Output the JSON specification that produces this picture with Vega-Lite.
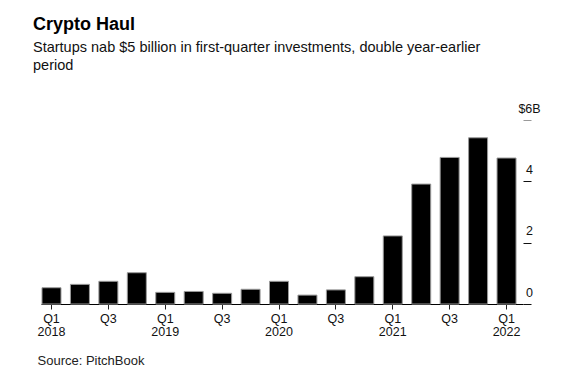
{
  "$schema": "https://vega.github.io/schema/vega-lite/v6.json",
  "autosize": "none",
  "width": 482,
  "height": 184,
  "padding": {"left": 41, "top": 120, "right": 53, "bottom": 77},
  "background": "white",
  "config": {
    "view": {"stroke": null},
    "font": "Liberation Sans"
  },
  "title": {
    "text": "Crypto Haul",
    "subtitle": ["Startups nab $5 billion in first-quarter investments, double year-earlier", "period"],
    "anchor": "start",
    "frame": "group",
    "dx": -8,
    "offset": 30,
    "fontSize": 18,
    "fontWeight": "bold",
    "color": "#000000",
    "subtitleFontSize": 14.5,
    "subtitleColor": "#111111",
    "subtitleLineHeight": 18,
    "subtitlePadding": 7
  },
  "data": {
    "values": [
      {"period": "2018-Q1", "value": 0.53},
      {"period": "2018-Q2", "value": 0.64},
      {"period": "2018-Q3", "value": 0.74},
      {"period": "2018-Q4", "value": 1.02},
      {"period": "2019-Q1", "value": 0.38},
      {"period": "2019-Q2", "value": 0.41},
      {"period": "2019-Q3", "value": 0.35},
      {"period": "2019-Q4", "value": 0.48},
      {"period": "2020-Q1", "value": 0.74},
      {"period": "2020-Q2", "value": 0.29},
      {"period": "2020-Q3", "value": 0.46},
      {"period": "2020-Q4", "value": 0.89},
      {"period": "2021-Q1", "value": 2.22},
      {"period": "2021-Q2", "value": 3.91},
      {"period": "2021-Q3", "value": 4.78},
      {"period": "2021-Q4", "value": 5.42},
      {"period": "2022-Q1", "value": 4.76}
    ]
  },
  "mark": {"type": "bar", "color": "#000000", "stroke": "#9a9a9a", "strokeWidth": 1},
  "encoding": {
    "x": {
      "field": "period",
      "type": "ordinal",
      "sort": null,
      "scale": {"paddingInner": 0.332, "paddingOuter": 0.14, "align": 0.125},
      "axis": {
        "title": "Source: PitchBook",
        "titleAnchor": "start",
        "titleAlign": "left",
        "titleX": -4,
        "titleY": 60,
        "titleBaseline": "alphabetic",
        "titleFontSize": 13,
        "titleFontWeight": "normal",
        "titleColor": "#222222",
        "values": ["2018-Q1", "2018-Q3", "2019-Q1", "2019-Q3", "2020-Q1", "2020-Q3", "2021-Q1", "2021-Q3", "2022-Q1"],
        "labelExpr": "indexof(datum.label, 'Q1') >= 0 ? ['Q1', slice(datum.label, 0, 4)] : 'Q3'",
        "labelAngle": 0,
        "labelFontSize": 12.5,
        "labelColor": "#111111",
        "labelLineHeight": 13.5,
        "labelPadding": 3,
        "labelBaseline": "top",
        "domainColor": "#000000",
        "domainWidth": 1,
        "tickSize": 5,
        "tickColor": "#222222",
        "tickWidth": 1,
        "grid": false
      }
    },
    "y": {
      "field": "value",
      "type": "quantitative",
      "scale": {"domain": [0, 6], "nice": false},
      "axis": {
        "orient": "right",
        "title": null,
        "values": [0, 2, 4, 6],
        "domain": false,
        "grid": false,
        "tickSize": 8,
        "tickWidth": 1,
        "tickColor": {"condition": {"test": "datum.value == 6", "value": "#999999"}, "value": "#111111"},
        "labelExpr": "datum.value == 6 ? '$6B' : datum.label",
        "labelAlign": "center",
        "labelPadding": -2,
        "labelBaseline": "alphabetic",
        "labelOffset": -8,
        "labelFontSize": 12.5,
        "labelColor": "#111111"
      }
    }
  }
}
